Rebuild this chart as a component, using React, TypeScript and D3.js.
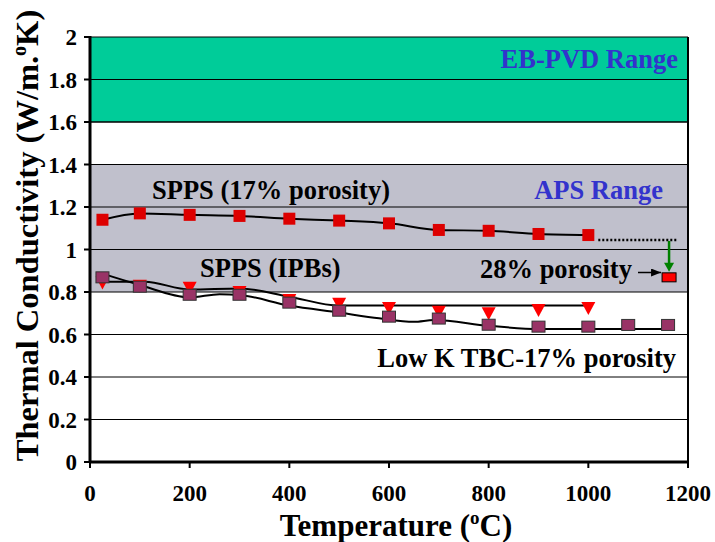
import React from "react";
import * as d3 from "d3";

// readings taken off the figure
const temps = [25, 100, 200, 300, 400, 500, 600, 700, 800, 900, 1000];
const spps17 = [1.14, 1.17, 1.163, 1.158, 1.145, 1.136, 1.123, 1.092, 1.088, 1.073, 1.068];

const ipbTemps = [25, 100, 200, 300, 400, 500, 600, 700, 800, 900, 1000, 1080, 1160];
const ipbSquares = [0.869, 0.825, 0.787, 0.787, 0.75, 0.712, 0.684, 0.675, 0.646, 0.637, 0.637, 0.645, 0.645];
const ipbTriangles = [0.845, 0.83, 0.82, 0.8, 0.762, 0.745, 0.725, 0.707, 0.7, 0.715, 0.725];

// fitted trend lines drawn in the figure
const upperFitT = [20, 110, 200, 300, 400, 500, 600, 1000];
const upperFitK = [0.848, 0.848, 0.812, 0.817, 0.778, 0.736, 0.736, 0.736];
const lowerFitT = [20, 100, 200, 260, 300, 400, 500, 580, 650, 690, 800, 900, 1160];
const lowerFitK = [0.89, 0.833, 0.775, 0.79, 0.786, 0.736, 0.703, 0.676, 0.66, 0.668, 0.641, 0.626, 0.626];

const porous28T = [1162];
const porous28K = [0.869];
const dottedT = [1020, 1180];
const dottedK = [1.045];

const yTicks = [0, 0.2, 0.4, 0.6, 0.8, 1, 1.2, 1.4, 1.6, 1.8, 2];
const xTicks = [0, 200, 400, 600, 800, 1000, 1200];
const apsBand = [0.8, 1.4];
const ebpvdBand = [1.6, 2.0];

const W = 715;
const H = 542;
const margin = { top: 37, right: 27, bottom: 80, left: 90 };
const FONT = "Liberation Serif, Times New Roman, Times, serif";
const LABEL = 26.5;

export default function App() {
  const x = d3.scaleLinear().domain([0, 1200]).range([margin.left, W - margin.right]);
  const y = d3.scaleLinear().domain([0, 2]).range([H - margin.bottom, margin.top]);

  const line = d3
    .line<[number, number]>()
    .x((d) => x(d[0]))
    .y((d) => y(d[1]))
    .curve(d3.curveMonotoneX);

  const sppsLine = line(temps.map((t, i) => [t, spps17[i]]));
  const upperLine = line(upperFitT.map((t, i) => [t, upperFitK[i]]));
  const lowerLine = line(lowerFitT.map((t, i) => [t, lowerFitK[i]]));

  const x0 = x(0);
  const x1 = x(1200);
  const arrowX = x(porous28T[0]);
  const sqTop = y(porous28K[0]) - 4.5;

  return (
    <svg
      width={W}
      height={H}
      style={{ position: "absolute", left: 0, top: 0, background: "#fff", fontFamily: FONT, fontWeight: "bold" }}
    >
      <defs>
        <marker id="blackHead" markerWidth="10" markerHeight="8" refX="10" refY="4" markerUnits="userSpaceOnUse">
          <path d="M0,0 L10,4 L0,8 Z" fill="#000" />
        </marker>
      </defs>

      {/* bands */}
      <rect x={x0} y={y(ebpvdBand[1])} width={x1 - x0} height={y(ebpvdBand[0]) - y(ebpvdBand[1])} fill="#00cc99" />
      <rect x={x0} y={y(apsBand[1])} width={x1 - x0} height={y(apsBand[0]) - y(apsBand[1])} fill="#c0c0cc" />

      {/* grid */}
      {yTicks.slice(1).map((t) => (
        <line key={t} x1={x0} x2={x1} y1={y(t)} y2={y(t)} stroke="#000" strokeWidth={t === 1.6 ? 1.5 : 1} />
      ))}
      <line x1={x1} x2={x1} y1={y(2)} y2={y(0)} stroke="#000" strokeWidth={2} />

      {/* band labels */}
      <text x={678} y={68} textAnchor="end" fill="#3333cc" fontSize={LABEL}>EB-PVD Range</text>
      <text x={663} y={198.5} textAnchor="end" fill="#3333cc" fontSize={LABEL}>APS Range</text>
      <text x={152} y={199} fill="#000" fontSize={LABEL}>SPPS (17% porosity)</text>
      <text x={200} y={277} fill="#000" fontSize={LABEL}>SPPS (IPBs)</text>
      <text x={676} y={366.5} textAnchor="end" fill="#000" fontSize={LABEL}>Low K TBC-17% porosity</text>
      <text x={480} y={278} fill="#000" fontSize={LABEL}>28% porosity</text>
      <line x1={638} x2={arrowX - 8} y1={272.5} y2={272.5} stroke="#000" strokeWidth={1.5} markerEnd="url(#blackHead)" />

      {/* fitted lines */}
      <path d={sppsLine ?? ""} fill="none" stroke="#000" strokeWidth={2} />
      <path d={upperLine ?? ""} fill="none" stroke="#000" strokeWidth={2} />
      <path d={lowerLine ?? ""} fill="none" stroke="#000" strokeWidth={2} />
      <line
        x1={x(dottedT[0])}
        x2={x(dottedT[1])}
        y1={y(dottedK[0])}
        y2={y(dottedK[0])}
        stroke="#000"
        strokeWidth={2.5}
        strokeDasharray="2 2"
      />
      <line x1={arrowX} x2={arrowX} y1={y(dottedK[0]) + 1} y2={sqTop - 9} stroke="#008000" strokeWidth={2.5} />
      <path d={`M${arrowX - 5},${sqTop - 10} L${arrowX + 5},${sqTop - 10} L${arrowX},${sqTop - 1} Z`} fill="#008000" />

      {/* markers */}
      {temps.map((t, i) => (
        <rect key={"s" + t} x={x(t) - 6} y={y(spps17[i]) - 6} width={12} height={12} fill="#dd0000" />
      ))}
      {temps.map((t, i) => {
        const cx = x(t);
        const cy = y(ipbTriangles[i]);
        return <path key={"t" + t} d={`M${cx - 7},${cy - 6} L${cx + 7},${cy - 6} L${cx},${cy + 7} Z`} fill="#ff0000" />;
      })}
      {ipbTemps.map((t, i) => (
        <rect
          key={"p" + t}
          x={x(t) - 6.5}
          y={y(ipbSquares[i]) - 5.5}
          width={13}
          height={11}
          fill="#993366"
          stroke="#333"
          strokeWidth={1}
        />
      ))}
      {porous28T.map((t, i) => (
        <rect key={"r" + t} x={x(t) - 7} y={y(porous28K[i]) - 4.5} width={14} height={9} fill="#ff0000" stroke="#000" strokeWidth={1} />
      ))}

      {/* axes */}
      <line x1={x0} x2={x0} y1={y(2) - 1} y2={y(0) + 1} stroke="#000" strokeWidth={3} />
      <line x1={x0 - 1} x2={x1 + 1} y1={y(0)} y2={y(0)} stroke="#000" strokeWidth={3} />
      {yTicks.map((t) => (
        <g key={"yt" + t}>
          <line x1={x0 - 6} x2={x0} y1={y(t)} y2={y(t)} stroke="#000" strokeWidth={2} />
          <text x={77} y={y(t)} dy="0.35em" textAnchor="end" fontSize={23}>
            {t}
          </text>
        </g>
      ))}
      {xTicks.map((t) => (
        <g key={"xt" + t}>
          <line x1={x(t)} x2={x(t)} y1={y(0)} y2={y(0) + 6} stroke="#000" strokeWidth={2} />
          <text x={x(t)} y={501} textAnchor="middle" fontSize={23}>
            {t}
          </text>
        </g>
      ))}

      {/* axis titles */}
      <text x={396} y={536} textAnchor="middle" fontSize={31}>
        Temperature (<tspan fontSize={19} dy={-12}>o</tspan>
        <tspan dy={12}>C)</tspan>
      </text>
      <text transform={`translate(38,${(y(0) + y(2)) / 2 - 14}) rotate(-90)`} textAnchor="middle" fontSize={32.5}>
        Thermal Conductivity (W/m.<tspan fontSize={20} dy={-12}>o</tspan>
        <tspan dy={12}>K)</tspan>
      </text>
    </svg>
  );
}
